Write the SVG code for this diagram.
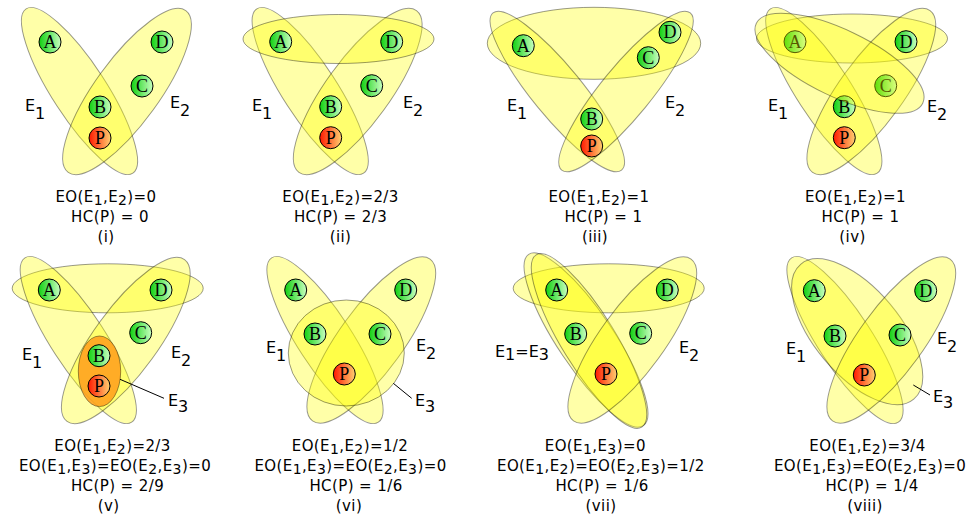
<svg xmlns="http://www.w3.org/2000/svg" width="971" height="519" viewBox="0 0 971 519">
<defs>
<linearGradient id="gG" x1="0" y1="0" x2="1" y2="0">
<stop offset="0" stop-color="#10d010"/><stop offset="1" stop-color="#c8ffc0"/>
</linearGradient>
<linearGradient id="gP" x1="0" y1="0" x2="1" y2="0">
<stop offset="0" stop-color="#ff1800"/><stop offset="1" stop-color="#ffd070"/>
</linearGradient>
<style>
.e{fill:#ffff00;fill-opacity:0.34;stroke:#000;stroke-opacity:0.4;stroke-width:1}
.o{fill:#ff9e1a;fill-opacity:0.85;stroke:#000;stroke-opacity:0.4;stroke-width:1}
.g{fill:url(#gG);stroke:#000;stroke-width:1}
.p{fill:url(#gP);stroke:#000;stroke-width:1}
.nt{font-family:"Liberation Serif","DejaVu Serif",serif;font-size:18px;text-anchor:middle;fill:#000}
.lb{font-family:"DejaVu Sans","Liberation Sans",sans-serif;font-size:16px;fill:#000}
.cap{font-family:"DejaVu Sans","Liberation Sans",sans-serif;font-size:15px;letter-spacing:0.4px;text-anchor:middle;fill:#000}
.s{font-size:14px}
.ln{stroke:#000;stroke-width:1;fill:none}
</style>
</defs>
<rect width="971" height="519" fill="#fff"/>

<!-- Panel i -->
<g id="panel-i">
<g id="i-E1"><ellipse class="e" rx="27" ry="98" transform="translate(79.5,91) rotate(-33)"/></g>
<g id="i-E2"><ellipse class="e" rx="32" ry="100" transform="translate(127,91.5) rotate(36)"/></g>
<g id="i-A"><circle class="g" cx="50" cy="42" r="11"/><text class="nt" x="50" y="48">A</text></g>
<g id="i-D"><circle class="g" cx="162" cy="42" r="11"/><text class="nt" x="162" y="48">D</text></g>
<g id="i-C"><circle class="g" cx="142" cy="86" r="11"/><text class="nt" x="142" y="92">C</text></g>
<g id="i-B"><circle class="g" cx="100" cy="107" r="11"/><text class="nt" x="100" y="113">B</text></g>
<g id="i-P"><circle class="p" cx="100" cy="138" r="11"/><text class="nt" x="100" y="144">P</text></g>
<text class="lb" x="25" y="111">E<tspan dy="8">1</tspan></text>
<text class="lb" x="170" y="108">E<tspan dy="8">2</tspan></text>
<text class="cap" x="106" y="202">EO(E<tspan class="s" dy="3">1</tspan><tspan dy="-3">,E</tspan><tspan class="s" dy="3">2</tspan><tspan dy="-3">)=0</tspan></text>
<text class="cap" x="110" y="222">HC(P) = 0</text>
<text class="cap" x="106" y="242">(i)</text>
</g>

<!-- Panel ii -->
<g id="panel-ii">
<g id="ii-E1"><ellipse class="e" rx="27" ry="98" transform="translate(310.2,91) rotate(-33)"/></g>
<g id="ii-E2"><ellipse class="e" rx="32" ry="100" transform="translate(357.7,91.5) rotate(36)"/></g>
<g id="ii-H"><ellipse class="e" cx="338.5" cy="39" rx="95.5" ry="24.5"/></g>
<g id="ii-A"><circle class="g" cx="280.7" cy="41.7" r="11"/><text class="nt" x="280.7" y="47.7">A</text></g>
<g id="ii-D"><circle class="g" cx="391.7" cy="41.7" r="11"/><text class="nt" x="391.7" y="47.7">D</text></g>
<g id="ii-C"><circle class="g" cx="371.7" cy="85.7" r="11"/><text class="nt" x="371.7" y="91.7">C</text></g>
<g id="ii-B"><circle class="g" cx="330.7" cy="106.7" r="11"/><text class="nt" x="330.7" y="112.7">B</text></g>
<g id="ii-P"><circle class="p" cx="330.7" cy="137.7" r="11"/><text class="nt" x="330.7" y="143.7">P</text></g>
<text class="lb" x="252" y="111">E<tspan dy="8">1</tspan></text>
<text class="lb" x="403" y="108">E<tspan dy="8">2</tspan></text>
<text class="cap" x="340.5" y="202">EO(E<tspan class="s" dy="3">1</tspan><tspan dy="-3">,E</tspan><tspan class="s" dy="3">2</tspan><tspan dy="-3">)=2/3</tspan></text>
<text class="cap" x="340.5" y="222">HC(P) = 2/3</text>
<text class="cap" x="340.5" y="242">(ii)</text>
</g>

<!-- Panel iii -->
<g id="panel-iii">
<g id="iii-H"><ellipse class="e" cx="594" cy="43.3" rx="106.7" ry="36"/></g>
<g id="iii-E1"><ellipse class="e" rx="25" ry="101.5" transform="translate(557.3,91.5) rotate(-39.3)"/></g>
<g id="iii-E2"><ellipse class="e" rx="25" ry="101.5" transform="translate(626,91.5) rotate(39.3)"/></g>
<g id="iii-A"><circle class="g" cx="523.3" cy="45.7" r="11"/><text class="nt" x="523.3" y="51.7">A</text></g>
<g id="iii-D"><circle class="g" cx="670" cy="32.3" r="11"/><text class="nt" x="670" y="38.3">D</text></g>
<g id="iii-C"><circle class="g" cx="648.3" cy="57.7" r="11"/><text class="nt" x="648.3" y="63.7">C</text></g>
<g id="iii-B"><circle class="g" cx="591.7" cy="119" r="11"/><text class="nt" x="591.7" y="125">B</text></g>
<g id="iii-P"><circle class="p" cx="591.7" cy="146" r="11"/><text class="nt" x="591.7" y="152">P</text></g>
<text class="lb" x="507" y="111">E<tspan dy="8">1</tspan></text>
<text class="lb" x="665" y="108">E<tspan dy="8">2</tspan></text>
<text class="cap" x="599" y="202">EO(E<tspan class="s" dy="3">1</tspan><tspan dy="-3">,E</tspan><tspan class="s" dy="3">2</tspan><tspan dy="-3">)=1</tspan></text>
<text class="cap" x="603.5" y="222">HC(P) = 1</text>
<text class="cap" x="595" y="242">(iii)</text>
</g>

<!-- Panel iv -->
<g id="panel-iv">
<g id="iv-H"><ellipse class="e" cx="852" cy="38.5" rx="95.5" ry="24.5"/></g>
<g id="iv-E1"><ellipse class="e" rx="27" ry="98" transform="translate(823.8,91) rotate(-33)"/></g>
<g id="iv-E2"><ellipse class="e" rx="32" ry="100" transform="translate(871.3,91.5) rotate(36)"/></g>
<g id="iv-A"><circle class="g" cx="795" cy="41.7" r="11"/><text class="nt" x="795" y="47.7">A</text></g>
<g id="iv-D"><circle class="g" cx="906" cy="41.7" r="11"/><text class="nt" x="906" y="47.7">D</text></g>
<g id="iv-C"><circle class="g" cx="885.7" cy="85.7" r="11"/><text class="nt" x="885.7" y="91.7">C</text></g>
<g id="iv-B"><circle class="g" cx="844.3" cy="106.7" r="11"/><text class="nt" x="844.3" y="112.7">B</text></g>
<g id="iv-P"><circle class="p" cx="844.3" cy="137.7" r="11"/><text class="nt" x="844.3" y="143.7">P</text></g>
<g id="iv-T"><ellipse class="e" rx="92.3" ry="33.4" transform="translate(839.5,63.3) rotate(25.6)"/></g>
<text class="lb" x="768" y="111">E<tspan dy="8">1</tspan></text>
<text class="lb" x="927" y="112">E<tspan dy="8">2</tspan></text>
<text class="cap" x="855.5" y="202">EO(E<tspan class="s" dy="3">1</tspan><tspan dy="-3">,E</tspan><tspan class="s" dy="3">2</tspan><tspan dy="-3">)=1</tspan></text>
<text class="cap" x="860.5" y="222">HC(P) = 1</text>
<text class="cap" x="852.5" y="242">(iv)</text>
</g>

<!-- Panel v -->
<g id="panel-v">
<g id="v-H"><ellipse class="e" cx="107.7" cy="288.3" rx="95.5" ry="24.5"/></g>
<g id="v-E1"><ellipse class="e" rx="27" ry="98" transform="translate(78.3,340) rotate(-33)"/></g>
<g id="v-E2"><ellipse class="e" rx="32" ry="100" transform="translate(125.8,340.5) rotate(36)"/></g>
<g id="v-E3"><ellipse class="o" cx="99.5" cy="371.3" rx="21.2" ry="35.3"/></g>
<g id="v-A"><circle class="g" cx="49.3" cy="290" r="11"/><text class="nt" x="49.3" y="296">A</text></g>
<g id="v-D"><circle class="g" cx="161" cy="290" r="11"/><text class="nt" x="161" y="296">D</text></g>
<g id="v-C"><circle class="g" cx="140.7" cy="332.7" r="11"/><text class="nt" x="140.7" y="338.7">C</text></g>
<g id="v-B"><circle class="g" cx="99" cy="355.7" r="11"/><text class="nt" x="99" y="361.7">B</text></g>
<g id="v-P"><circle class="p" cx="99" cy="386" r="11"/><text class="nt" x="99" y="392">P</text></g>
<text class="lb" x="22" y="360">E<tspan dy="8">1</tspan></text>
<text class="lb" x="171" y="358">E<tspan dy="8">2</tspan></text>
<text class="lb" x="168" y="406">E<tspan dy="6">3</tspan></text>
<text class="cap" x="112.5" y="451">EO(E<tspan class="s" dy="3">1</tspan><tspan dy="-3">,E</tspan><tspan class="s" dy="3">2</tspan><tspan dy="-3">)=2/3</tspan></text>
<text class="cap" x="115" y="471">EO(E<tspan class="s" dy="3">1</tspan><tspan dy="-3">,E</tspan><tspan class="s" dy="3">3</tspan><tspan dy="-3">)=EO(E</tspan><tspan class="s" dy="3">2</tspan><tspan dy="-3">,E</tspan><tspan class="s" dy="3">3</tspan><tspan dy="-3">)=0</tspan></text>
<text class="cap" x="117.5" y="491">HC(P) = 2/9</text>
<text class="cap" x="108.7" y="511">(v)</text>
</g>

<!-- Panel vi -->
<g id="panel-vi">
<g id="vi-E1"><ellipse class="e" rx="27" ry="98" transform="translate(325,340) rotate(-33)"/></g>
<g id="vi-E2"><ellipse class="e" rx="32" ry="100" transform="translate(371.3,340) rotate(36)"/></g>
<g id="vi-E3"><ellipse class="e" cx="346.3" cy="353" rx="58" ry="53"/></g>
<g id="vi-A"><circle class="g" cx="295.7" cy="290" r="11"/><text class="nt" x="295.7" y="296">A</text></g>
<g id="vi-D"><circle class="g" cx="405.7" cy="290" r="11"/><text class="nt" x="405.7" y="296">D</text></g>
<g id="vi-B"><circle class="g" cx="315" cy="334" r="11"/><text class="nt" x="315" y="340">B</text></g>
<g id="vi-C"><circle class="g" cx="380" cy="334" r="11"/><text class="nt" x="380" y="340">C</text></g>
<g id="vi-P"><circle class="p" cx="344.3" cy="374" r="11"/><text class="nt" x="344.3" y="380">P</text></g>
<text class="lb" x="266" y="353">E<tspan dy="8">1</tspan></text>
<text class="lb" x="416" y="351">E<tspan dy="8">2</tspan></text>
<text class="lb" x="415" y="406">E<tspan dy="6">3</tspan></text>
<text class="cap" x="350" y="451">EO(E<tspan class="s" dy="3">1</tspan><tspan dy="-3">,E</tspan><tspan class="s" dy="3">2</tspan><tspan dy="-3">)=1/2</tspan></text>
<text class="cap" x="350.5" y="471">EO(E<tspan class="s" dy="3">1</tspan><tspan dy="-3">,E</tspan><tspan class="s" dy="3">3</tspan><tspan dy="-3">)=EO(E</tspan><tspan class="s" dy="3">2</tspan><tspan dy="-3">,E</tspan><tspan class="s" dy="3">3</tspan><tspan dy="-3">)=0</tspan></text>
<text class="cap" x="356" y="491">HC(P) = 1/6</text>
<text class="cap" x="349" y="511">(vi)</text>
</g>

<!-- Panel vii -->
<g id="panel-vii">
<g id="vii-H"><ellipse class="e" cx="608.7" cy="288.3" rx="95.5" ry="24.5"/></g>
<g id="vii-E1"><ellipse class="e" rx="28" ry="103" transform="translate(586,340) rotate(-33.8)"/></g>
<g id="vii-E3"><ellipse class="e" rx="27" ry="101" transform="translate(589,341) rotate(-31.5)"/></g>
<g id="vii-E2"><ellipse class="e" rx="32" ry="100" transform="translate(632.3,340) rotate(36)"/></g>
<g id="vii-A"><circle class="g" cx="556.7" cy="290" r="11"/><text class="nt" x="556.7" y="296">A</text></g>
<g id="vii-D"><circle class="g" cx="667.3" cy="290" r="11"/><text class="nt" x="667.3" y="296">D</text></g>
<g id="vii-B"><circle class="g" cx="575.7" cy="334" r="11"/><text class="nt" x="575.7" y="340">B</text></g>
<g id="vii-C"><circle class="g" cx="640.7" cy="333.3" r="11"/><text class="nt" x="640.7" y="339.3">C</text></g>
<g id="vii-P"><circle class="p" cx="606" cy="374" r="11"/><text class="nt" x="606" y="380">P</text></g>
<text class="lb" x="495" y="357">E<tspan dy="3">1</tspan><tspan dy="-3">=E</tspan><tspan dy="3">3</tspan></text>
<text class="lb" x="679" y="353">E<tspan dy="8">2</tspan></text>
<text class="cap" x="595.3" y="451">EO(E<tspan class="s" dy="3">1</tspan><tspan dy="-3">,E</tspan><tspan class="s" dy="3">3</tspan><tspan dy="-3">)=0</tspan></text>
<text class="cap" x="600.8" y="471">EO(E<tspan class="s" dy="3">1</tspan><tspan dy="-3">,E</tspan><tspan class="s" dy="3">2</tspan><tspan dy="-3">)=EO(E</tspan><tspan class="s" dy="3">2</tspan><tspan dy="-3">,E</tspan><tspan class="s" dy="3">3</tspan><tspan dy="-3">)=1/2</tspan></text>
<text class="cap" x="602" y="491">HC(P) = 1/6</text>
<text class="cap" x="601" y="511">(vii)</text>
</g>

<!-- Panel viii -->
<g id="panel-viii">
<g id="viii-E1"><ellipse class="e" rx="27" ry="98" transform="translate(845,340) rotate(-33)"/></g>
<g id="viii-E3"><ellipse class="e" rx="43" ry="88" transform="translate(857.2,331.7) rotate(-40)"/></g>
<g id="viii-E2"><ellipse class="e" rx="32" ry="100" transform="translate(891.3,340) rotate(36)"/></g>
<g id="viii-A"><circle class="g" cx="814.3" cy="290.7" r="11"/><text class="nt" x="814.3" y="296.7">A</text></g>
<g id="viii-D"><circle class="g" cx="925.7" cy="290.7" r="11"/><text class="nt" x="925.7" y="296.7">D</text></g>
<g id="viii-B"><circle class="g" cx="835" cy="336" r="11"/><text class="nt" x="835" y="342">B</text></g>
<g id="viii-C"><circle class="g" cx="900" cy="335" r="11"/><text class="nt" x="900" y="341">C</text></g>
<g id="viii-P"><circle class="p" cx="864.3" cy="375" r="11"/><text class="nt" x="864.3" y="381">P</text></g>
<text class="lb" x="786" y="354">E<tspan dy="8">1</tspan></text>
<text class="lb" x="937" y="344">E<tspan dy="8">2</tspan></text>
<text class="lb" x="933" y="402">E<tspan dy="6">3</tspan></text>
<text class="cap" x="867.5" y="451">EO(E<tspan class="s" dy="3">1</tspan><tspan dy="-3">,E</tspan><tspan class="s" dy="3">2</tspan><tspan dy="-3">)=3/4</tspan></text>
<text class="cap" x="870" y="471">EO(E<tspan class="s" dy="3">1</tspan><tspan dy="-3">,E</tspan><tspan class="s" dy="3">3</tspan><tspan dy="-3">)=EO(E</tspan><tspan class="s" dy="3">2</tspan><tspan dy="-3">,E</tspan><tspan class="s" dy="3">3</tspan><tspan dy="-3">)=0</tspan></text>
<text class="cap" x="872" y="491">HC(P) = 1/4</text>
<text class="cap" x="865" y="511">(viii)</text>
</g>

<g id="connectors">
<line class="ln" x1="120" y1="379.3" x2="164" y2="398.3"/>
<line class="ln" x1="393.3" y1="383.3" x2="411.7" y2="398.3"/>
<line class="ln" x1="913.3" y1="385" x2="930" y2="395"/>
</g>
</svg>
